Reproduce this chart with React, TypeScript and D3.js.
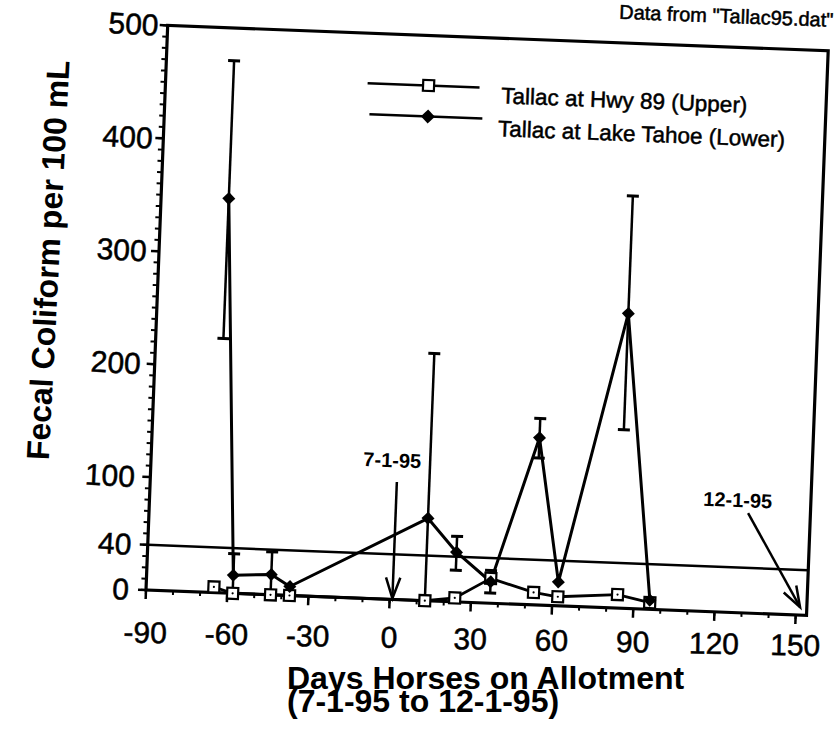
import React from 'react';
import * as d3 from 'd3';

// ---- data ----
const sampleDays = [-65, -58, -44, -37, 13, 24, 37, 53, 62, 84, 96];
const upperValues = [5, 0, 0, 0, 0, 3.5, 22, 11, 8, 12, 6];
const lowerValues = [349, 16, 18, 8, 73, 44, 19, 148, 21, 261, 8];
const lowerErrLow: (number | null)[] = [225, 0, 0, null, 0, 28, 9, 130, null, 158, null];
const lowerErrHigh: (number | null)[] = [471, 35, 38, null, 219, 58, 29, 165, null, 365, null];

const xTicks = [-90, -60, -30, 0, 30, 60, 90, 120, 150];
const yTicks = [0, 40, 100, 200, 300, 400, 500];
const thresholdValue = 40;

const seriesNames = ['Tallac at Hwy 89 (Upper)', 'Tallac at Lake Tahoe (Lower)'];
const annotationLabels = ['7-1-95', '12-1-95'];
const annotationTextAt = [[-1, 117], [127, 93.5]];
const annotationFrom = [[1, 104], [131, 88.5]];
const annotationTo = [[1, 1], [151.5, 7]];

const xTitle = ['Days Horses on Allotment', '(7-1-95 to 12-1-95)'];
const yTitle = 'Fecal Coliform per 100 mL';
const sourceNote = 'Data from "Tallac95.dat"';

const FONT = "'Liberation Sans', Arial, Helvetica, sans-serif";

function arrowArms(fx: number, fy: number, tx: number, ty: number, len = 22, ang = 19) {
  const dx = fx - tx, dy = fy - ty;
  const L = Math.hypot(dx, dy);
  const ux = dx / L, uy = dy / L;
  const a = (ang * Math.PI) / 180;
  const r = (s: number) => [
    tx + len * (ux * Math.cos(s * a) - uy * Math.sin(s * a)),
    ty + len * (ux * Math.sin(s * a) + uy * Math.cos(s * a)),
  ];
  const p1 = r(1), p2 = r(-1);
  return `M${p1[0]},${p1[1]}L${tx},${ty}L${p2[0]},${p2[1]}`;
}

export default function App() {
  const W = 661, H = 565;
  const x = d3.scaleLinear().domain([-90, 154]).range([0, W]);
  const y = d3.scaleLinear().domain([0, 500]).range([0, -H]);

  type P = { day: number; val: number };
  const upper: P[] = sampleDays.map((d, i) => ({ day: d, val: upperValues[i] }));
  const lower = sampleDays.map((d, i) => ({
    day: d, val: lowerValues[i], lo: lowerErrLow[i], hi: lowerErrHigh[i],
  }));
  const line = d3.line<P>().x(d => x(d.day)).y(d => y(d.val));

  const yMinor = d3.range(0, 501, 10);
  const xMinor = d3.range(-90, 151, 10);

  const diamond = (cx: number, cy: number, r = 6) =>
    `M${cx},${cy - r}L${cx + r},${cy}L${cx},${cy + r}L${cx - r},${cy}Z`;

  const heavy = { stroke: '#000', strokeWidth: 0.5 };

  return (
    <svg width={834} height={729} viewBox="0 0 834 729"
      style={{ position: 'absolute', left: 0, top: 0, background: '#fff' }}>
      <rect x={0} y={0} width={834} height={729} fill="#fff" />

      {/* main rotated frame (scan is tilted) */}
      <g transform="translate(146,590) rotate(2.2)" fontFamily={FONT}>
        {/* frame */}
        <rect x={0} y={-H} width={W} height={H} fill="none" stroke="#000" strokeWidth={3.2} />

        {/* y ticks (outside, left) */}
        {yMinor.map(v => (
          <line key={'ym' + v} x1={0} x2={-5} y1={y(v)} y2={y(v)} stroke="#000" strokeWidth={2} />
        ))}
        {yTicks.map(v => (
          <line key={'yt' + v} x1={0} x2={-8} y1={y(v)} y2={y(v)} stroke="#000" strokeWidth={2.5} />
        ))}
        {/* x ticks (outside, below) */}
        {xMinor.map(v => (
          <line key={'xm' + v} x1={x(v)} x2={x(v)} y1={0} y2={4} stroke="#000" strokeWidth={2} />
        ))}
        {xTicks.map(v => (
          <line key={'xt' + v} x1={x(v)} x2={x(v)} y1={0} y2={9} stroke="#000" strokeWidth={2.5} />
        ))}

        {/* threshold line */}
        <line x1={0} x2={W} y1={y(thresholdValue)} y2={y(thresholdValue)} stroke="#000" strokeWidth={2.5} />

        {/* series lines */}
        <path d={line(upper) || ''} fill="none" stroke="#000" strokeWidth={2.8} strokeLinejoin="round" />
        <path d={line(lower) || ''} fill="none" stroke="#000" strokeWidth={3} strokeLinejoin="round" />

        {/* error bars on lower series */}
        {lower.map((d, i) => d.hi == null || d.lo == null ? null : (
          <g key={'eb' + i} stroke="#000">
            <line x1={x(d.day)} x2={x(d.day)} y1={y(d.lo)} y2={y(d.hi)} strokeWidth={2.5} />
            <line x1={x(d.day) - 6} x2={x(d.day) + 6} y1={y(d.hi)} y2={y(d.hi)} strokeWidth={3} />
            {d.lo > 0 && (
              <line x1={x(d.day) - 6} x2={x(d.day) + 6} y1={y(d.lo)} y2={y(d.lo)} strokeWidth={3} />
            )}
          </g>
        ))}

        {/* markers */}
        {upper.map((d, i) => (
          <g key={'um' + i}>
            <rect x={x(d.day) - 5.5} y={y(d.val) - 5.5} width={11} height={11}
              fill="#fff" stroke="#000" strokeWidth={2.2} />
            <circle cx={x(d.day)} cy={y(d.val)} r={1.1} fill="#000" />
          </g>
        ))}
        {lower.map((d, i) => (
          <path key={'lm' + i} d={diamond(x(d.day), y(d.val), 6.5)} fill="#000" />
        ))}

        {/* legend */}
        <line x1={202} x2={314} y1={-515} y2={-515} stroke="#000" strokeWidth={2.5} />
        <rect x={257.5} y={-520.5} width={11} height={11} fill="#fff" stroke="#000" strokeWidth={2.2} />
        <text x={336} y={-500} fontSize={22.5} fill="#000" {...heavy}>{seriesNames[0]}</text>
        <line x1={205} x2={318} y1={-484} y2={-484} stroke="#000" strokeWidth={2.5} />
        <path d={diamond(263.5, -484, 7)} fill="#000" />
        <text x={334} y={-467} fontSize={22.5} fill="#000" {...heavy}>{seriesNames[1]}</text>

        {/* annotations */}
        {annotationLabels.map((lab, i) => {
          const [td, tv] = annotationTextAt[i];
          const fx = x(annotationFrom[i][0]), fy = y(annotationFrom[i][1]);
          const tx = x(annotationTo[i][0]), ty = y(annotationTo[i][1]);
          return (
            <g key={'an' + i}>
              <text x={x(td)} y={y(tv)} fontSize={20} fontWeight="bold" textAnchor="middle">{lab}</text>
              <line x1={fx} y1={fy} x2={tx} y2={ty} stroke="#000" strokeWidth={2.5} />
              <path d={arrowArms(fx, fy, tx, ty)} fill="none" stroke="#000" strokeWidth={2.5} />
            </g>
          );
        })}

        {/* source note */}
        <text x={665} y={-589} fontSize={20} textAnchor="end" fill="#000" {...heavy}>{sourceNote}</text>
      </g>

      {/* x tick labels (slightly different tilt in the scan) */}
      <g transform="translate(146,590) rotate(1.1)" fontFamily={FONT}>
        {xTicks.map(v => (
          <text key={'xl' + v} x={x(v)} y={53} fontSize={30} textAnchor="middle" {...heavy}>{v}</text>
        ))}
      </g>

      {/* x axis title */}
      <text fontFamily={FONT} fontSize={32} fontWeight="bold">
        <tspan x={287} y={689}>{xTitle[0]}</tspan>
        <tspan x={287} y={712}>{xTitle[1]}</tspan>
      </text>

      {/* y tick labels and title */}
      <g transform="translate(146,590) rotate(3)" fontFamily={FONT}>
        {yTicks.map(v => (
          <text key={'yl' + v} x={-17} y={y(v)} dy="0.36em" fontSize={30} textAnchor="end" {...heavy}>{v}</text>
        ))}
        <text transform={`translate(-104,${y(287)}) rotate(-90)`} fontSize={32} fontWeight="bold"
          textAnchor="middle">{yTitle}</text>
      </g>
    </svg>
  );
}
